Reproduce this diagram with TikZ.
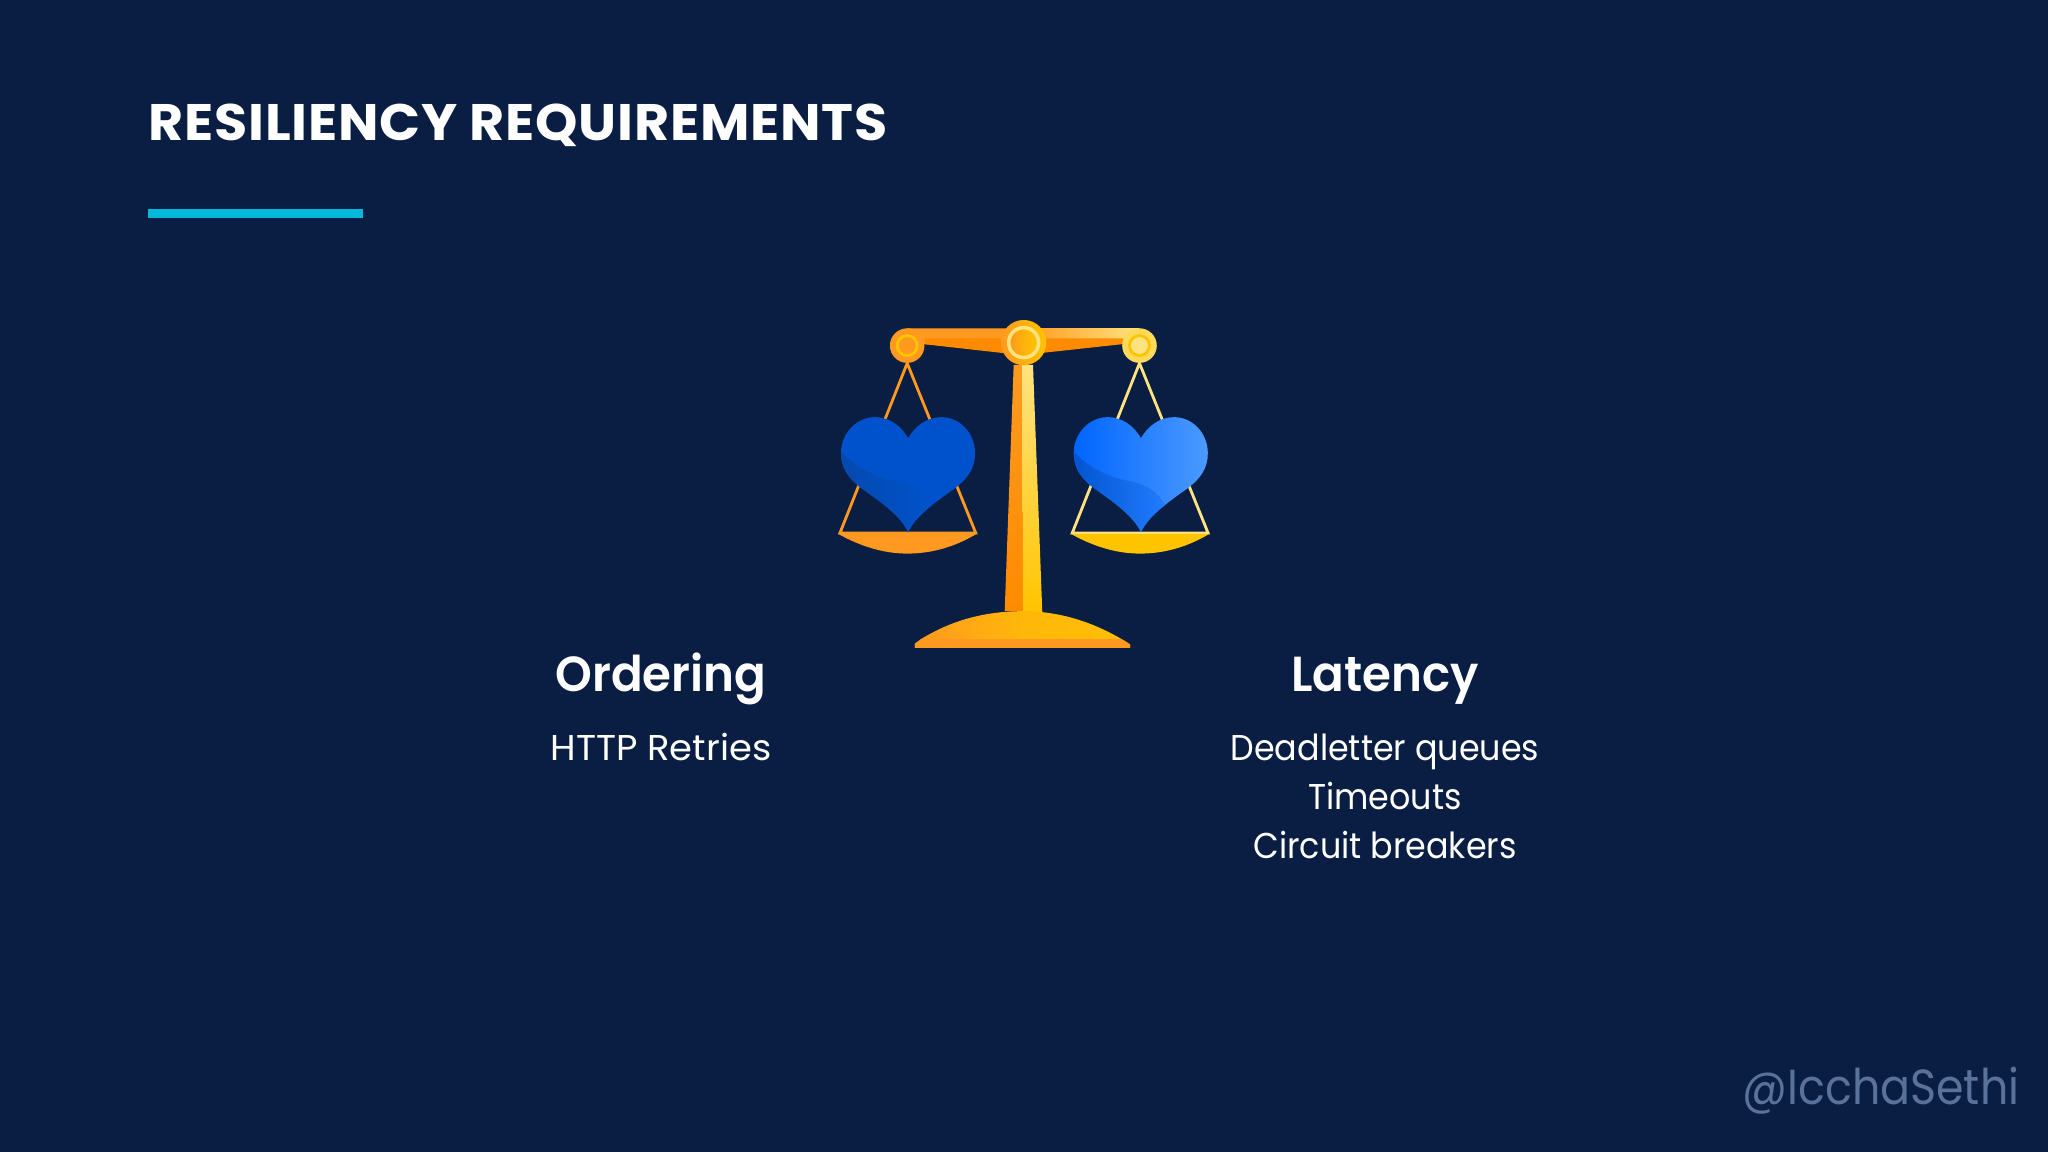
\documentclass[tikz,border=0pt]{standalone}
\usepackage{fontspec}
\usepackage{xcolor}
\setmainfont{Poppins}[FakeStretch=0.93]
\newfontfamily\titlefont{Poppins}[FakeStretch=1.05,LetterSpace=1.5]
\newfontfamily\headfont{Poppins SemiBold}[FakeStretch=0.95]
\newfontfamily\handlefont{Poppins}[FakeStretch=0.9]
\newfontfamily\capsfont{Poppins}[FakeStretch=1.03]
\usetikzlibrary{positioning}

\definecolor{slidebg}{HTML}{091E42}
\definecolor{accent}{HTML}{00B8D9}
\definecolor{mark}{HTML}{5A7299}
\definecolor{orange}{HTML}{FF991F}
\definecolor{deep}{HTML}{FF8B00}
\definecolor{gold}{HTML}{FFC400}
\definecolor{pale}{HTML}{FFE380}
\definecolor{bluedark}{HTML}{0747A6}
\definecolor{bluemid}{HTML}{0052CC}
\definecolor{bluelive}{HTML}{0065FF}
\definecolor{bluelight}{HTML}{4C9AFF}

\newcommand{\heartpath}{(265,698) .. controls (245,652) and (190,612) .. (125,566)
 .. controls (85,536) and (63,505) .. (63,460)
 .. controls (63,400) and (110,352) .. (165,352)
 .. controls (210,352) and (245,380) .. (265,415)
 .. controls (285,380) and (320,352) .. (365,352)
 .. controls (420,352) and (466,400) .. (466,460)
 .. controls (466,505) and (445,536) .. (405,566)
 .. controls (340,612) and (285,652) .. (265,698) -- cycle}
\newcommand{\heartshade}{(40,420) .. controls (80,490) and (150,530) .. (235,545)
 .. controls (300,560) and (330,590) .. (345,640) -- (265,760) -- (40,760) -- cycle}
\newcommand{\panpath}{(55,703) .. controls (130,745) and (200,762) .. (262,762)
 .. controls (330,762) and (400,745) .. (470,703) -- cycle}
\newcommand{\basepath}{(285,1045) -- (285,1033) -- (305,1018)
 .. controls (400,960) and (500,935) .. (612,935)
 .. controls (730,935) and (840,975) .. (932,1035) -- (932,1045) -- cycle}

\tikzset{
 titletext/.style={anchor=base west,inner sep=0pt,text=white,font=\fontsize{14.6}{18}\titlefont\bfseries},
 headtext/.style={anchor=base,inner sep=0pt,text=white,font=\fontsize{14}{17}\headfont},
 itemtext/.style={anchor=base,inner sep=0pt,text=white,font=\fontsize{10.2}{12}\selectfont},
 marktext/.style={anchor=base east,inner sep=0pt,text=mark,font=\fontsize{14}{17}\handlefont},
 cord/.style={line width=0.8pt}
}

\begin{document}
\begin{tikzpicture}[x=0.01cm,y=-0.01cm]
 \fill[slidebg] (0,0) rectangle (2048,1152);
 \useasboundingbox (0,0) rectangle (2048,1152);

 % heading
 \node[titletext] (title) at (148,141) {RESILIENCY REQUIREMENTS};
 \fill[accent] (148,209) rectangle (363,218);

 % scale, in zoomed units
 \begin{scope}[shift={(820,300)},x=0.00333cm,y=-0.00333cm]
  % cords
  \draw[orange,cord] (262,190) -- (60,700) -- (468,700) -- cycle;
  \draw[pale,cord] (960,190) -- (758,700) -- (1166,700) -- cycle;
  % pans
  \fill[orange] \panpath;
  \begin{scope}[xshift=2.326cm]
   \fill[gold] \panpath;
  \end{scope}
  % post
  \shade[top color=orange,bottom color=deep] (582,195) -- (612,195) -- (612,935) -- (555,935) -- cycle;
  \shade[top color=pale,bottom color=gold] (608,195) -- (640,195) -- (668,940) -- (610,935) -- cycle;
  % base
  \shade[left color=orange,right color=gold!90!orange,middle color=gold!70!orange] \basepath;
  \begin{scope}
   \clip \basepath;
   \fill[orange] (270,1018) rectangle (950,1050);
  \end{scope}
  % beam
  \fill[orange] (262,85) -- (612,85) -- (612,160) -- (310,132) -- (262,137) -- cycle;
  \fill[deep] (315,115) -- (545,115) -- (555,160) -- (315,133) -- cycle;
  \shade[left color=orange,right color=pale] (612,85) rectangle (960,115);
  \fill[deep] (612,115) -- (915,115) -- (915,132) -- (612,165) -- cycle;
  % pivots
  \fill[orange] (262,137) circle [x radius=52,y radius=52];
  \draw[gold,line width=.8pt,fill=orange] (262,137) circle [x radius=30,y radius=30];
  \fill[pale!70!gold] (960,137) circle [x radius=52,y radius=52];
  \draw[gold,line width=.8pt,fill=pale] (960,137) circle [x radius=30,y radius=30];
  \shade[left color=orange,right color=gold] (612,128) circle [x radius=68,y radius=68];
  \shade[left color=orange,right color=gold,middle color=gold!60!orange] (612,128) circle [x radius=44,y radius=44];
  \draw[pale,line width=1pt] (612,128) circle [x radius=45,y radius=45];
  % hearts
  \fill[bluemid] \heartpath;
  \begin{scope}
   \clip \heartpath;
   \shade[left color=bluedark!85!bluemid,right color=bluemid] \heartshade;
  \end{scope}
  \begin{scope}[xshift=2.326cm]
   \shade[left color=bluelive,right color=bluelight] \heartpath;
   \begin{scope}
    \clip \heartpath;
    \shade[left color=bluemid,right color=bluelive!55!bluelight] \heartshade;
   \end{scope}
  \end{scope}
 \end{scope}

 % texts
 \node[headtext] (ordering) at (661,691) {Ordering};
 \node[itemtext,font=\fontsize{10.2}{12}\capsfont] (retries) at (661,760) {HTTP Retries};
 \node[headtext] (latency) at (1385,691) {Latency};
 \node[itemtext] (queues) at (1385,760) {Deadletter queues};
 \node[itemtext] (timeouts) at (1385,809) {Timeouts};
 \node[itemtext] (breakers) at (1385,858) {Circuit breakers};
 \node[marktext] (handle) at (2020,1104) {@IcchaSethi};
\end{tikzpicture}
\end{document}
